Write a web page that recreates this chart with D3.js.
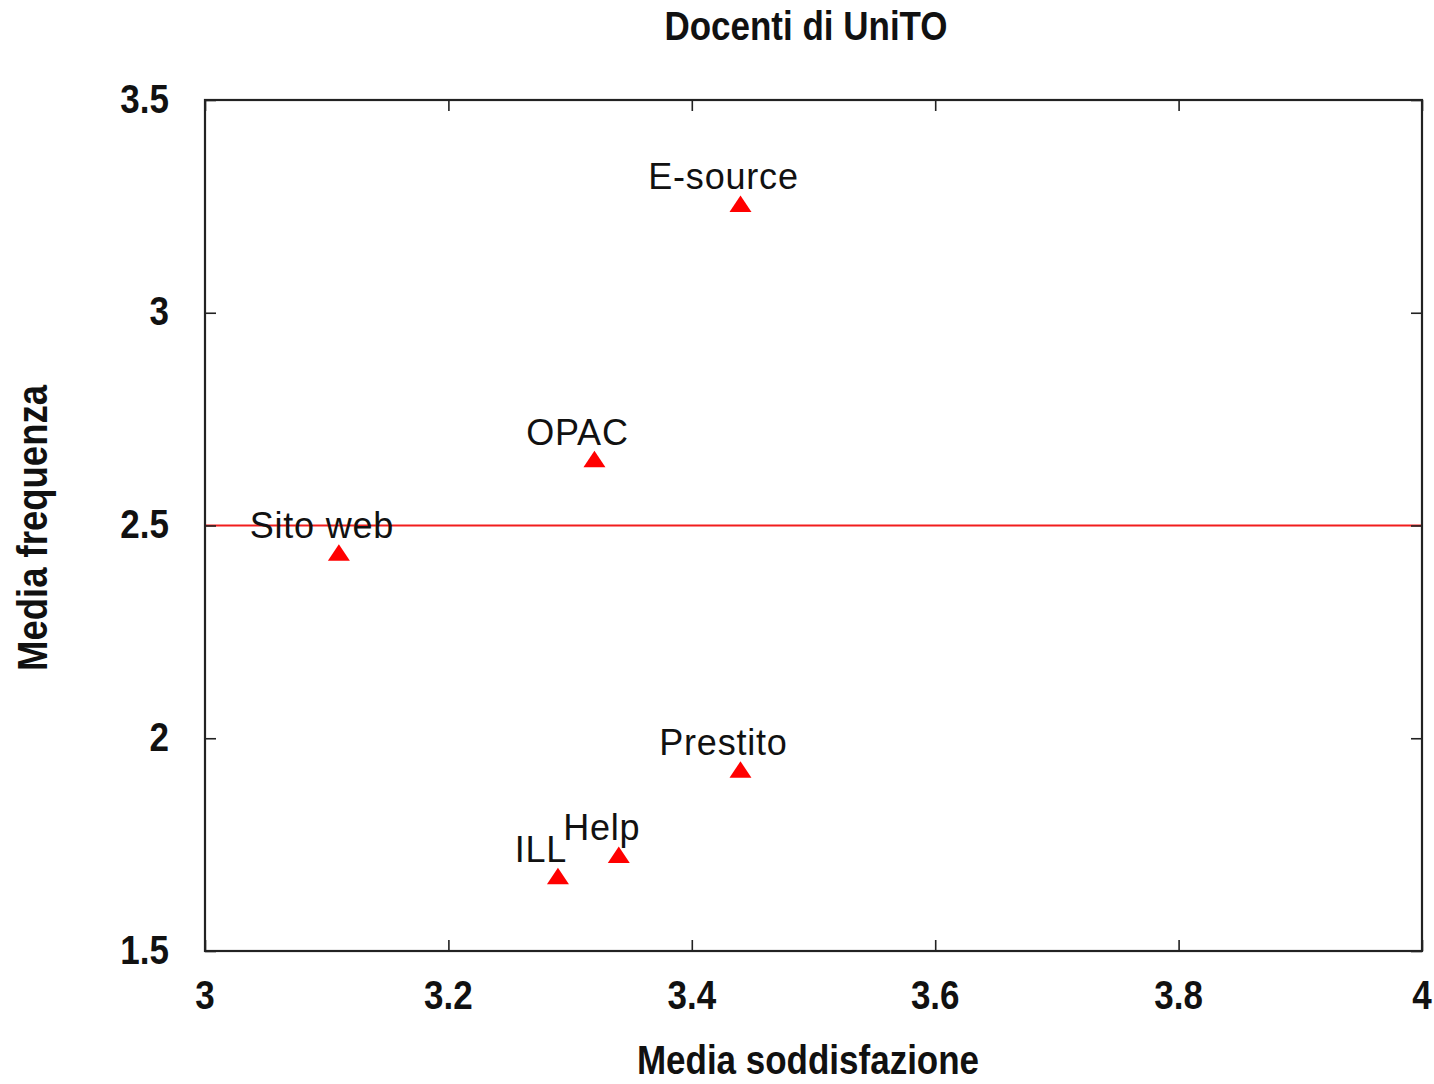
<!DOCTYPE html>
<html>
<head>
<meta charset="utf-8">
<script src="https://cdn.jsdelivr.net/npm/d3@7"></script>
<style>
  html, body { margin: 0; padding: 0; background: #fff; }
  svg { display: block; }
  text { font-family: "Liberation Sans", Arial, Helvetica, sans-serif; fill: #111; }
</style>
</head>
<body>
<div id="chart"></div>
<script>
// Services: mean satisfaction (x) vs mean frequency of use (y)
const services     = ["E-source", "OPAC", "Sito web", "Prestito", "Help", "ILL"];
const satisfaction = [3.44, 3.32, 3.11, 3.44, 3.34, 3.29];
const frequency    = [3.25, 2.65, 2.43, 1.92, 1.72, 1.67];

const xTicks = [3, 3.2, 3.4, 3.6, 3.8, 4];
const yTicks = [1.5, 2, 2.5, 3, 3.5];
const referenceLevel = 2.5;

const titleText = "Docenti di UniTO";
const xTitle = "Media soddisfazione";
const yTitle = "Media frequenza";

const W = 1434, H = 1084;
const plot = { left: 205, top: 100, right: 1422, bottom: 951 };
const stretch = 1.15;   // tall bold glyphs for titles and tick labels

const svg = d3.select("#chart").append("svg")
  .attr("width", W).attr("height", H);

const x = d3.scaleLinear().domain([3, 4]).range([plot.left, plot.right]);
const y = d3.scaleLinear().domain([1.5, 3.5]).range([plot.bottom, plot.top]);

// reference line at 2.5
svg.append("line")
  .attr("x1", x(3)).attr("x2", x(4))
  .attr("y1", y(referenceLevel)).attr("y2", y(referenceLevel))
  .attr("stroke", "#f21d1d").attr("stroke-width", 2);

// inward ticks on all four sides
const tickStyle = g => {
  g.select(".domain").remove();
  g.selectAll(".tick line").attr("stroke", "#222").attr("stroke-width", 1.6);
  g.selectAll(".tick text").remove();
};
svg.append("g").attr("transform", `translate(0,${plot.bottom})`)
  .call(d3.axisBottom(x).tickValues(xTicks).tickSize(-11)).call(tickStyle);
svg.append("g").attr("transform", `translate(0,${plot.top})`)
  .call(d3.axisTop(x).tickValues(xTicks).tickSize(-11)).call(tickStyle);
svg.append("g").attr("transform", `translate(${plot.left},0)`)
  .call(d3.axisLeft(y).tickValues(yTicks).tickSize(-11)).call(tickStyle);
svg.append("g").attr("transform", `translate(${plot.right},0)`)
  .call(d3.axisRight(y).tickValues(yTicks).tickSize(-11)).call(tickStyle);

// frame
svg.append("rect")
  .attr("x", plot.left).attr("y", plot.top)
  .attr("width", plot.right - plot.left).attr("height", plot.bottom - plot.top)
  .attr("fill", "none").attr("stroke", "#222").attr("stroke-width", 2.2);

// bold, slightly tall text used for ticks and titles
const boldText = (px, py, txt, anchor, rot, size) => svg.append("text")
  .attr("transform", `translate(${px},${py})${rot ? " rotate(" + rot + ")" : ""} scale(1,${stretch})`)
  .attr("text-anchor", anchor)
  .style("font-size", (size || 35) + "px").style("font-weight", "bold")
  .text(txt);

xTicks.forEach(v => boldText(x(v), plot.bottom + 58, d3.format("~g")(v), "middle"));
yTicks.forEach(v => boldText(169, y(v) + 12.5, d3.format("~g")(v), "end"));

// titles
boldText(806, 40, titleText, "middle");
boldText(808, 1074, xTitle, "middle");
boldText(47, 528, yTitle, "middle", -90, 36.5);

// filled triangles, centroid on the data point
const tri = (cx, cy) => {
  const hw = 11, up = 11, down = 5.5;
  return `M${cx},${cy - up}L${cx + hw},${cy + down}L${cx - hw},${cy + down}Z`;
};
const pts = services.map((s, i) => ({ name: s, sx: satisfaction[i], fy: frequency[i] }));

svg.append("g").selectAll("path").data(pts).join("path")
  .attr("d", d => tri(x(d.sx), y(d.fy)))
  .attr("fill", "#ff0000");

svg.append("g").selectAll("text").data(pts).join("text")
  .attr("x", d => x(d.sx) - 17)
  .attr("y", d => y(d.fy) - 17)
  .attr("text-anchor", "middle")
  .style("font-size", "36px")
  .style("letter-spacing", "0.8px")
  .text(d => d.name);
</script>
</body>
</html>
